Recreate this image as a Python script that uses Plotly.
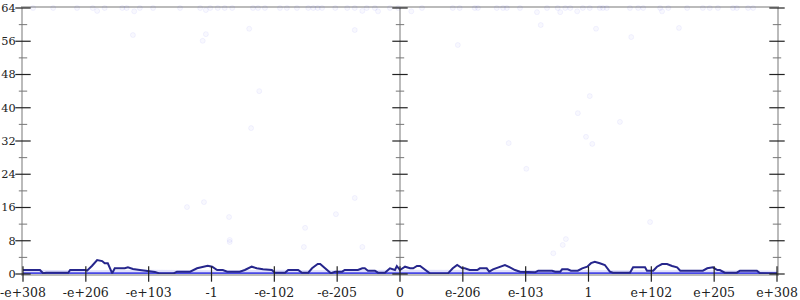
import plotly.graph_objects as go

# ---------------- data ----------------
tick_pos = [-6, -5, -4, -3, -2, -1, 0, 1, 2, 3, 4, 5, 6]
tick_text = ["-e+308", "-e+206", "-e+103", "-1", "-e-102", "-e-205", "0",
             "e-206", "e-103", "1", "e+102", "e+205", "e+308"]
y_major = [0, 8, 16, 24, 32, 40, 48, 56, 64]
y_minor = [4, 12, 20, 28, 36, 44, 52, 60]
y_tick_cols = [-6, 0, 6]

# outliers at the top of the range
top_x = [-5.84, -5.52, -5.14, -4.89, -4.82, -4.70, -4.42, -4.35, -4.23, -4.14, -3.93,
         -3.50, -3.18, -3.09, -3.02, -2.90, -2.79, -2.67, -2.34, -2.26, -2.15, -1.91,
         -1.80, -1.64, -1.46, -1.38, -1.31, -1.24, -1.03, -0.84, -0.72, -0.60, -0.53,
         -0.40, -0.35, -0.16, -0.03,
         0.18, 0.35, 0.84, 0.95, 1.19, 1.24, 1.54, 1.64, 1.70, 1.91, 2.18, 2.34, 2.51,
         2.55, 2.63, 2.71, 2.82, 2.91, 3.02, 3.18, 3.23, 3.29, 3.66, 3.79, 3.87, 4.14,
         4.17, 4.27, 4.57, 4.82, 4.93, 5.06, 5.30, 5.36, 5.54, 5.62]
top_y = [64, 64, 64, 64, 63.3, 64, 64, 64, 63.2, 64, 64,
         64, 64, 63.5, 64, 64, 64, 64, 64, 64, 64, 64,
         64, 64, 64, 64, 64, 64, 64, 64, 64, 63.3, 64,
         64, 63.2, 64, 64,
         63.2, 64, 64, 64, 64, 64, 64, 64, 64, 64, 63.0, 64, 64,
         63.0, 64, 64, 63.2, 64, 64, 64, 64, 64, 64, 64, 64, 64,
         63.2, 64, 64, 64, 64, 64, 64, 64, 64, 64]

# scattered samples in the middle of the range
mid_x = [-4.25, -3.14, -3.09, -2.40, -2.24, -0.72, 0.92, 2.24, 3.12, 3.68, 4.44, 3.02,
         2.83, -2.37, -3.39, -3.12, -2.72, -1.51, -1.02, -0.72, -2.71, 3.50, 1.73, 2.96,
         3.06, 2.01, 3.98, 2.64, -2.71, -1.53, -0.60, 2.59, 2.44]
mid_y = [57.5, 56.1, 57.7, 59.0, 44.0, 58.7, 55.1, 59.9, 59.0, 57.0, 59.2, 42.8,
         38.7, 35.1, 16.1, 17.3, 13.7, 11.1, 14.4, 18.3, 8.2, 36.6, 31.5, 33.0,
         31.3, 25.3, 12.5, 8.4, 7.7, 6.5, 6.5, 7.0, 5.0]

# dense band of samples close to zero
band_x = [-6, -5, -4, -3, -2, -1, 0, 1, 2, 3, 4, 5, 6]
band_top = [1.0, 0.9, 1.0, 0.9, 1.0, 0.9, 1.0, 1.0, 1.0, 0.9, 1.0, 0.9, 0.8]
zero_x = [-6, 6]
zero_y = [0, 0]

# running average line
avg_x = [-6.0, -5.73, -5.68, -5.63, -5.28, -5.25, -5.01, -4.98, -4.90, -4.82, -4.74,
         -4.70, -4.65, -4.58, -4.54, -4.38, -4.33, -4.25, -4.14, -4.06, -3.98, -3.90,
         -3.82, -3.61, -3.55, -3.34, -3.23, -3.17, -3.10, -3.06, -2.99, -2.91, -2.82,
         -2.75, -2.55, -2.47, -2.36, -2.28, -2.18, -2.07, -2.04, -1.99, -1.83, -1.78,
         -1.62, -1.56, -1.46, -1.40, -1.31, -1.27, -1.23, -1.16, -1.10, -1.03, -0.92,
         -0.88, -0.67, -0.60, -0.56, -0.51, -0.40, -0.35, -0.24, -0.16, -0.08, -0.05,
         0.0, 0.08, 0.16, 0.21, 0.27, 0.32, 0.37, 0.43, 0.48, 0.76, 0.84, 0.91, 0.99,
         1.03, 1.11, 1.23, 1.27, 1.38, 1.42, 1.48, 1.59, 1.67, 1.75, 1.83, 1.91, 2.15,
         2.20, 2.42, 2.47, 2.55, 2.58, 2.67, 2.72, 2.83, 2.90, 2.98, 3.04, 3.10, 3.18,
         3.26, 3.34, 3.39, 3.66, 3.71, 3.90, 3.93, 4.03, 4.09, 4.17, 4.25, 4.33, 4.41,
         4.46, 4.62, 4.66, 4.73, 4.82, 4.89, 4.98, 5.05, 5.09, 5.17, 5.36, 5.41, 5.68,
         5.73, 6.0]
avg_y = [0.96, 0.96, 0.17, 0.31, 0.31, 0.96, 0.96, 0.8, 2.0, 3.37, 3.1,
         2.57, 2.57, 0.17, 1.37, 1.37, 1.6, 1.2, 0.96, 0.8, 0.8, 0.5,
         0.1, 0.1, 0.56, 0.56, 1.37, 1.6, 2.0, 2.0, 1.76, 0.96, 0.96,
         0.56, 0.56, 0.96, 1.76, 1.37, 1.13, 1.13, 0.96, 0.31, 0.31, 0.96,
         0.96, 0.31, 0.31, 1.37, 2.4, 2.4, 1.92, 0.96, 0.17, 0.56, 0.56,
         0.96, 0.96, 1.37, 1.37, 0.8, 0.8, 0.31, 0.31, 1.37, 0.96, 1.92,
         0.96, 1.76, 1.37, 1.37, 1.92, 1.92, 1.37, 0.56, 0.1, 0.1, 1.37, 2.17, 1.37,
         1.37, 0.96, 0.96, 1.37, 1.37, 0.56, 1.13, 1.76, 2.17, 1.6, 0.96, 0.56, 0.4,
         0.8, 0.8, 0.56, 0.56, 1.13, 1.13, 0.8, 0.8, 1.37, 1.76, 2.6, 2.96, 2.57,
         2.17, 0.56, 0.31, 0.31, 1.6, 1.6, 0.8, 0.8, 1.76, 2.4, 2.4, 1.92, 1.6,
         0.8, 0.8, 0.96, 0.8, 0.8, 1.37, 1.6, 0.96, 0.96, 0.31, 0.31, 0.8, 0.8,
         0.17, 0.1]

# ---------------- figure ----------------
pt_marker = dict(size=5, color="rgba(70,70,235,0.035)",
                 line=dict(width=1, color="rgba(70,70,235,0.06)"))

fig = go.Figure()
fig.add_trace(go.Scatter(x=band_x, y=band_top, mode="lines", line=dict(width=0),
                         fill="tozeroy", fillcolor="rgba(120,120,240,0.22)",
                         hoverinfo="skip", showlegend=False))
fig.add_trace(go.Scatter(x=zero_x, y=zero_y, mode="lines",
                         line=dict(width=3.5, color="rgba(55,55,225,0.9)"),
                         hoverinfo="skip", showlegend=False, cliponaxis=False))
fig.add_trace(go.Scatter(x=top_x, y=top_y, mode="markers", marker=pt_marker,
                         showlegend=False, cliponaxis=False))
fig.add_trace(go.Scatter(x=mid_x, y=mid_y, mode="markers", marker=pt_marker,
                         showlegend=False, cliponaxis=False))
fig.add_trace(go.Scatter(x=avg_x, y=avg_y, mode="lines",
                         line=dict(width=2, color="#26268c"),
                         showlegend=False))

# tick marks crossing the axis lines
maj_x, maj_y, min_x, min_y = [], [], [], []
for c in y_tick_cols:
    for v in y_major:
        maj_x.append(c); maj_y.append(v)
    for v in y_minor:
        min_x.append(c); min_y.append(v)
fig.add_trace(go.Scatter(x=maj_x, y=maj_y, mode="markers", cliponaxis=False,
                         marker=dict(symbol="line-ew", size=11,
                                     line=dict(width=1.2, color="#222")),
                         hoverinfo="skip", showlegend=False))
fig.add_trace(go.Scatter(x=min_x, y=min_y, mode="markers", cliponaxis=False,
                         marker=dict(symbol="line-ew", size=6,
                                     line=dict(width=1, color="#777")),
                         hoverinfo="skip", showlegend=False))
fig.add_trace(go.Scatter(x=tick_pos, y=[y_major[0]] * len(tick_pos), mode="markers",
                         cliponaxis=False,
                         marker=dict(symbol="line-ns", size=11,
                                     line=dict(width=1.2, color="#222")),
                         hoverinfo="skip", showlegend=False))

fig.update_layout(
    width=800, height=300,
    margin=dict(l=23, r=23, t=8, b=26),
    paper_bgcolor="white", plot_bgcolor="white",
    font=dict(family="DejaVu Serif", size=12.5, color="#222"),
    xaxis=dict(range=[-6, 6], tickvals=tick_pos, ticktext=tick_text,
               showgrid=False, showline=True, mirror=True, linecolor="#bbb",
               linewidth=2, zeroline=True, zerolinecolor="#bbb", zerolinewidth=2,
               ticks="outside", ticklen=6, tickcolor="rgba(0,0,0,0)",
               layer="below traces", fixedrange=True, automargin=False),
    yaxis=dict(range=[0, 64], tickvals=y_major, showgrid=False, showline=True,
               mirror=True, linecolor="#bbb", linewidth=2, zeroline=False,
               ticks="outside", ticklen=3, tickcolor="rgba(0,0,0,0)",
               tickfont=dict(size=11.3),
               layer="below traces", fixedrange=True, automargin=False),
)

fig.write_html("out.html")
